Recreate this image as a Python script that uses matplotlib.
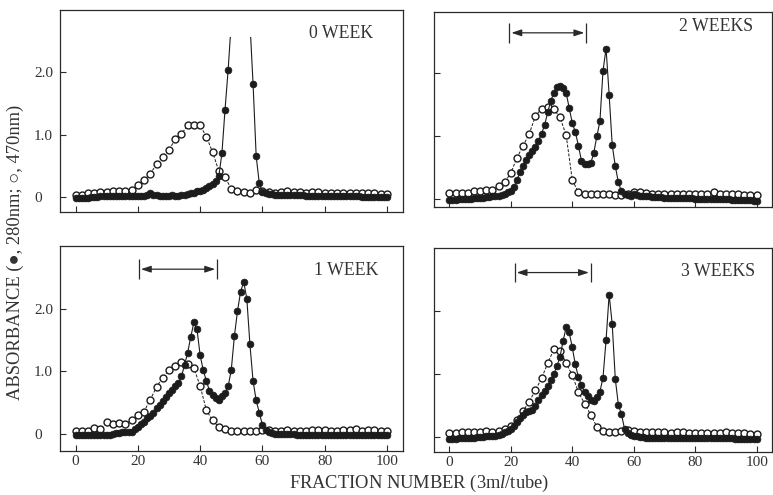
import numpy as np
import matplotlib
matplotlib.use('Agg')
import matplotlib.pyplot as plt
from matplotlib.patches import Rectangle

plt.rcParams['font.family'] = ['Liberation Serif', 'DejaVu Serif', 'DejaVu Sans']
plt.rcParams['mathtext.fontset'] = 'custom'
plt.rcParams['mathtext.rm'] = 'Liberation Serif'
plt.rcParams['mathtext.it'] = 'Liberation Serif:italic'

INK = '#1c1c1c'
TXT = '#333333'

# ---------------- data ----------------
fractions_filled = np.arange(0, 101)      # 280 nm, every tube
fractions_open = np.arange(0, 101, 2)     # 470 nm, every second tube

panel_titles = ['0 WEEK', '2 WEEKS', '1 WEEK', '3 WEEKS']

# 0 WEEK (values above the drawn ceiling are off-scale)
filled_0w = [-0.02, -0.02, -0.02, -0.01, -0.01, 0.00, 0.00, 0.00, 0.01, 0.01,
             0.01, 0.02, 0.02, 0.02, 0.02, 0.02, 0.01, 0.01, 0.01, 0.01,
             0.02, 0.01, 0.02, 0.04, 0.06, 0.04, 0.03, 0.02, 0.02, 0.02,
             0.02, 0.03, 0.02, 0.02, 0.03, 0.04, 0.05, 0.06, 0.07, 0.09,
             0.10, 0.12, 0.15, 0.18, 0.21, 0.25, 0.33, 0.70, 1.40, 2.04,
             2.80, np.nan, np.nan, np.nan, np.nan, np.nan, 2.80, 1.82, 0.66, 0.22,
             0.08, 0.06, 0.05, 0.05, 0.04, 0.04, 0.04, 0.04, 0.03, 0.03,
             0.03, 0.03, 0.03, 0.03, 0.02, 0.02, 0.02, 0.02, 0.02, 0.02,
             0.02, 0.01, 0.01, 0.01, 0.01, 0.01, 0.01, 0.01, 0.01, 0.01,
             0.01, 0.01, 0.00, 0.00, 0.00, 0.00, 0.00, 0.00, 0.00, 0.00, 0.00]
open_0w = [0.04, 0.04, 0.06, 0.06, 0.08, 0.08, 0.10, 0.10, 0.10, 0.12,
           0.19, 0.27, 0.37, 0.53, 0.64, 0.75, 0.93, 1.01, 1.15, 1.16,
           1.15, 0.97, 0.72, 0.42, 0.32, 0.13, 0.10, 0.08, 0.06, 0.11,
           0.10, 0.08, 0.07, 0.08, 0.09, 0.08, 0.08, 0.07, 0.08, 0.08,
           0.07, 0.06, 0.06, 0.06, 0.07, 0.07, 0.06, 0.06, 0.06, 0.05, 0.05]

# 2 WEEKS
filled_2w = [-0.02, -0.02, -0.02, -0.01, -0.01, -0.01, 0.00, 0.00, 0.01, 0.01,
             0.02, 0.02, 0.03, 0.03, 0.04, 0.05, 0.05, 0.06, 0.08, 0.10,
             0.13, 0.18, 0.30, 0.42, 0.52, 0.61, 0.70, 0.76, 0.82, 0.92,
             1.03, 1.17, 1.37, 1.55, 1.68, 1.77, 1.79, 1.76, 1.68, 1.44,
             1.20, 1.06, 0.84, 0.60, 0.55, 0.55, 0.56, 0.73, 0.99, 1.23,
             2.03, 2.38, 1.65, 0.85, 0.52, 0.26, 0.12, 0.08, 0.06, 0.05,
             0.08, 0.06, 0.05, 0.05, 0.04, 0.04, 0.03, 0.03, 0.03, 0.03,
             0.02, 0.02, 0.02, 0.02, 0.02, 0.01, 0.01, 0.01, 0.01, 0.01,
             0.00, 0.00, 0.00, 0.00, 0.00, -0.01, -0.01, -0.01, -0.01, -0.01,
             -0.01, -0.01, -0.02, -0.02, -0.02, -0.02, -0.02, -0.02, -0.02, -0.03, -0.03]
open_2w = [0.09, 0.09, 0.09, 0.09, 0.12, 0.12, 0.14, 0.14, 0.20, 0.26,
           0.41, 0.65, 0.84, 1.03, 1.31, 1.43, 1.45, 1.42, 1.29, 1.01,
           0.30, 0.10, 0.08, 0.07, 0.07, 0.07, 0.07, 0.06, 0.06, 0.07,
           0.10, 0.11, 0.09, 0.08, 0.08, 0.08, 0.08, 0.08, 0.08, 0.07,
           0.07, 0.07, 0.08, 0.10, 0.08, 0.08, 0.07, 0.07, 0.06, 0.06, 0.06]

# 1 WEEK
filled_1w = [-0.02, -0.02, -0.02, -0.02, -0.02, -0.02, -0.01, -0.01, -0.01, -0.01,
             -0.01, -0.01, 0.00, 0.01, 0.02, 0.03, 0.03, 0.04, 0.04, 0.08,
             0.12, 0.16, 0.20, 0.25, 0.29, 0.34, 0.41, 0.47, 0.53, 0.59,
             0.65, 0.71, 0.77, 0.82, 0.92, 1.10, 1.30, 1.55, 1.78, 1.67,
             1.26, 1.02, 0.85, 0.69, 0.62, 0.57, 0.55, 0.60, 0.65, 0.76,
             1.02, 1.56, 1.96, 2.27, 2.43, 2.16, 1.43, 0.85, 0.54, 0.34,
             0.15, 0.07, 0.03, 0.01, 0.00, 0.00, 0.00, 0.00, 0.00, 0.00,
             0.00, -0.01, -0.01, -0.01, -0.01, -0.01, -0.01, -0.01, -0.01, -0.01,
             -0.01, -0.01, -0.01, -0.01, -0.01, -0.02, -0.02, -0.02, -0.02, -0.02,
             -0.02, -0.02, -0.02, -0.02, -0.02, -0.02, -0.02, -0.02, -0.02, -0.02, -0.02]
open_1w = [0.05, 0.05, 0.05, 0.10, 0.08, 0.19, 0.16, 0.18, 0.16, 0.22,
           0.30, 0.36, 0.55, 0.75, 0.90, 1.02, 1.09, 1.15, 1.12, 1.05,
           0.77, 0.38, 0.22, 0.11, 0.08, 0.05, 0.05, 0.05, 0.05, 0.05,
           0.06, 0.06, 0.05, 0.05, 0.06, 0.05, 0.05, 0.05, 0.06, 0.06,
           0.06, 0.05, 0.05, 0.06, 0.06, 0.08, 0.05, 0.06, 0.06, 0.05, 0.05]

# 3 WEEKS
filled_3w = [-0.03, -0.03, -0.03, -0.02, -0.02, -0.02, -0.01, -0.01, -0.01, 0.00,
             0.00, 0.00, 0.01, 0.01, 0.02, 0.02, 0.03, 0.05, 0.07, 0.10,
             0.12, 0.17, 0.23, 0.30, 0.35, 0.39, 0.41, 0.43, 0.49, 0.58,
             0.66, 0.73, 0.81, 0.90, 1.00, 1.12, 1.27, 1.52, 1.74, 1.66,
             1.42, 1.15, 0.95, 0.82, 0.71, 0.65, 0.59, 0.57, 0.63, 0.72,
             0.94, 1.54, 2.26, 1.79, 0.92, 0.51, 0.36, 0.13, 0.06, 0.03,
             0.02, 0.01, 0.00, 0.00, -0.01, -0.01, -0.01, -0.01, -0.01, -0.01,
             -0.01, -0.01, -0.01, -0.01, -0.02, -0.02, -0.02, -0.02, -0.02, -0.02,
             -0.02, -0.02, -0.02, -0.02, -0.02, -0.02, -0.02, -0.02, -0.02, -0.02,
             -0.02, -0.02, -0.02, -0.03, -0.03, -0.03, -0.03, -0.03, -0.03, -0.03, -0.03]
open_3w = [0.06, 0.06, 0.07, 0.08, 0.08, 0.08, 0.09, 0.08, 0.10, 0.12,
           0.17, 0.27, 0.41, 0.56, 0.74, 0.93, 1.17, 1.39, 1.37, 1.17,
           0.98, 0.71, 0.53, 0.35, 0.16, 0.09, 0.08, 0.08, 0.09, 0.11,
           0.09, 0.07, 0.07, 0.07, 0.07, 0.07, 0.06, 0.07, 0.07, 0.06,
           0.06, 0.06, 0.06, 0.06, 0.06, 0.07, 0.06, 0.06, 0.06, 0.05, 0.05]

filled_series = [filled_0w, filled_2w, filled_1w, filled_3w]
open_series = [open_0w, open_2w, open_1w, open_3w]

# pooled range (double arrow): start, end fraction and level
pool_start = [None, 19.5, 20.3, 21.2]
pool_end = [None, 44.6, 45.5, 46.1]
pool_level = [None, 2.63, 2.63, 2.61]

# drawn ceiling for off-scale peak
ceiling = [2.56, None, None, None]

x_ticks = [0, 20, 40, 60, 80, 100]
y_ticks = [0, 1.0, 2.0]
y_ticklabels = ['0', '1.0', '2.0']

# ---------------- layout ----------------
W, H = 773, 495
fig = plt.figure(figsize=(W / 100, H / 100), dpi=100)
fig.patch.set_facecolor('white')

# pixel boxes: left, right, top, bottom
boxes = [(60, 402.5, 10, 212), (434, 772, 12, 207),
         (60, 402.5, 246, 451), (434, 772, 248, 452)]
ylims = [(-0.24, 3.0), (-0.13, 2.96), (-0.27, 3.0), (-0.24, 3.0)]
title_pos = [(0.914, 0.886), (0.944, 0.925), (0.931, 0.88), (0.950, 0.884)]

for i in range(4):
    l, r, t, b = boxes[i]
    ax = fig.add_axes([l / W, (H - b) / H, (r - l) / W, (b - t) / H])
    ax.set_xlim(-5, 105)
    ax.set_ylim(*ylims[i])
    for s in ax.spines.values():
        s.set_linewidth(0.9)
        s.set_color('#2a2a2a')

    ax.set_xticks(x_ticks)
    ax.set_yticks(y_ticks)
    ax.tick_params(direction='in', length=4.5, width=0.8, colors='#2a2a2a',
                   labelcolor=TXT, labelsize=11)
    ax.tick_params(axis='y', pad=18.7)
    ax.tick_params(axis='x', pad=3)
    if i in (0, 2):
        ax.set_yticklabels(y_ticklabels)
        for lab in ax.get_yticklabels():
            lab.set_ha('left')
    else:
        ax.set_yticklabels([])
    if i in (2, 3):
        ax.set_xticklabels([str(v) for v in x_ticks])
    else:
        ax.set_xticklabels([])

    # 470 nm (open circles, dashed)
    ax.plot(fractions_open, open_series[i], linestyle=(0, (3.0, 1.6)), lw=0.7,
            color=INK, marker='o', ms=5.0, mfc='white', mec=INK, mew=1.0,
            zorder=3)
    # 280 nm (filled circles, solid)
    ln, = ax.plot(fractions_filled, filled_series[i], linestyle='-', lw=0.8,
                  color=INK, marker='o', ms=4.9, mfc=INK, mec=INK, mew=0.5,
                  zorder=4)
    if ceiling[i] is not None:
        clip = Rectangle((-10, -5), 130, 5 + ceiling[i], transform=ax.transData,
                         facecolor='none', edgecolor='none')
        ln.set_clip_path(clip)

    ax.text(title_pos[i][0], title_pos[i][1], panel_titles[i], transform=ax.transAxes,
            ha='right', va='center', fontsize=12.8, color=TXT)

    if pool_start[i] is not None:
        x0, x1, yl = pool_start[i], pool_end[i], pool_level[i]
        ax.vlines([x0, x1], yl - 0.155, yl + 0.155, color='#2a2a2a', lw=0.9)
        ax.annotate('', xy=(x1, yl), xytext=(x0, yl),
                    arrowprops=dict(arrowstyle='<|-|>,head_length=0.6,head_width=0.2',
                                    mutation_scale=10, color='#2a2a2a', lw=0.9,
                                    shrinkA=1.5, shrinkB=1.5))

fig.text(419 / W, 12 / H, r'FRACTION NUMBER (3m$\mathit{l}$/tube)',
         ha='center', va='center', fontsize=13.3, color=TXT)
fig.text(15 / W, 243 / H, 'ABSORBANCE (\u25cf, 280nm; \u25cb, 470nm)',
         rotation=90, ha='center', va='center', fontsize=13.3, color=TXT)

fig.savefig('out.png', dpi=100, facecolor='white')
